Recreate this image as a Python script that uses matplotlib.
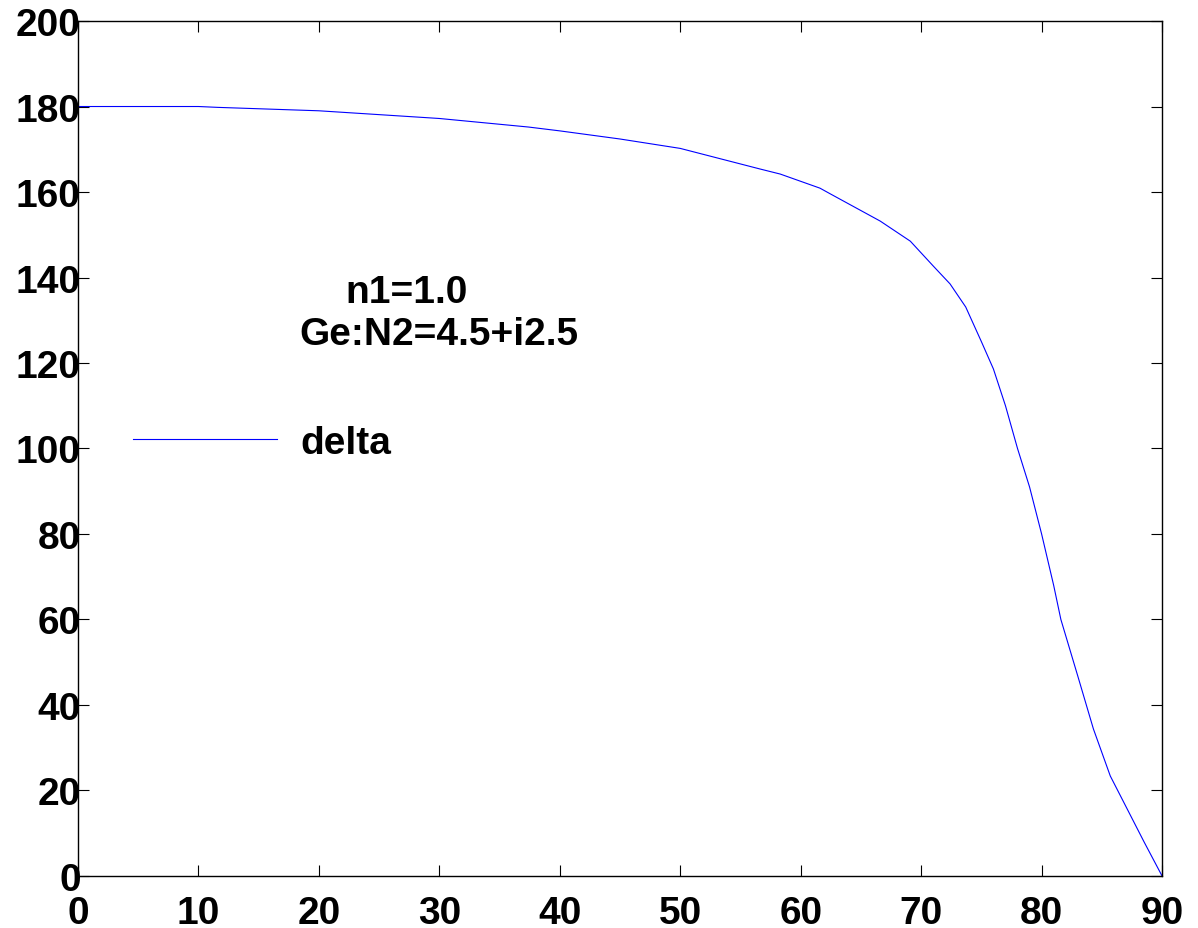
import matplotlib
matplotlib.use("Agg")
import matplotlib.pyplot as plt

# incidence angle (deg) vs delta (deg)
angle = [0, 10, 11.6, 20, 30, 37.4, 40, 45, 50, 56.6, 58.3, 61.6, 62.5, 66.6,
         69.1, 71, 72.4, 73.7, 75, 76, 77, 78, 79, 80, 81, 81.6, 83, 84.3,
         85.7, 87.1, 88.5, 90]
delta = [180, 180, 179.8, 179, 177.2, 175.2, 174.3, 172.4, 170.2, 165.4, 164.2,
         160.9, 159.5, 153.2, 148.5, 142.7, 138.5, 133.1, 125, 118.6, 110, 100,
         91, 80, 68, 60, 46.8, 34.4, 23.4, 15.7, 8, 0]

xticks = [0, 10, 20, 30, 40, 50, 60, 70, 80, 90]
yticks = [0, 20, 40, 60, 80, 100, 120, 140, 160, 180, 200]

plt.rcParams['font.family'] = ['Liberation Sans', 'DejaVu Sans']
plt.rcParams['font.weight'] = 'bold'

fig = plt.figure(figsize=(11.98, 9.29), dpi=100)
ax = fig.add_axes([0.0651, 0.056, 0.9049, 0.9203])

ax.plot(angle, delta, color='#0000ff', linewidth=0.8, label='delta')

ax.set_xlim(0, 90)
ax.set_ylim(0, 200)
ax.set_xticks(xticks)
ax.set_yticks(yticks)
ax.tick_params(direction='in', length=8, width=0.8, top=True, right=True,
               labelsize=28, colors='black')
ax.tick_params(axis='x', pad=14)
ax.tick_params(axis='y', pad=-2)
for lab in ax.get_xticklabels() + ax.get_yticklabels():
    lab.set_fontweight('bold')
for s in ax.spines.values():
    s.set_linewidth(1.0)

ax.text(22.2, 134.3, 'n1=1.0', fontsize=28, fontweight='bold')
ax.text(18.4, 124.4, 'Ge:N2=4.5+i2.5', fontsize=28, fontweight='bold')

ax.legend(loc='center left', bbox_to_anchor=(0.0507, 0.507), frameon=False,
          borderpad=0, borderaxespad=0, handlelength=3.7, handletextpad=0.6,
          prop={'size': 28, 'weight': 'bold'})

fig.savefig('out.png', dpi=100)
